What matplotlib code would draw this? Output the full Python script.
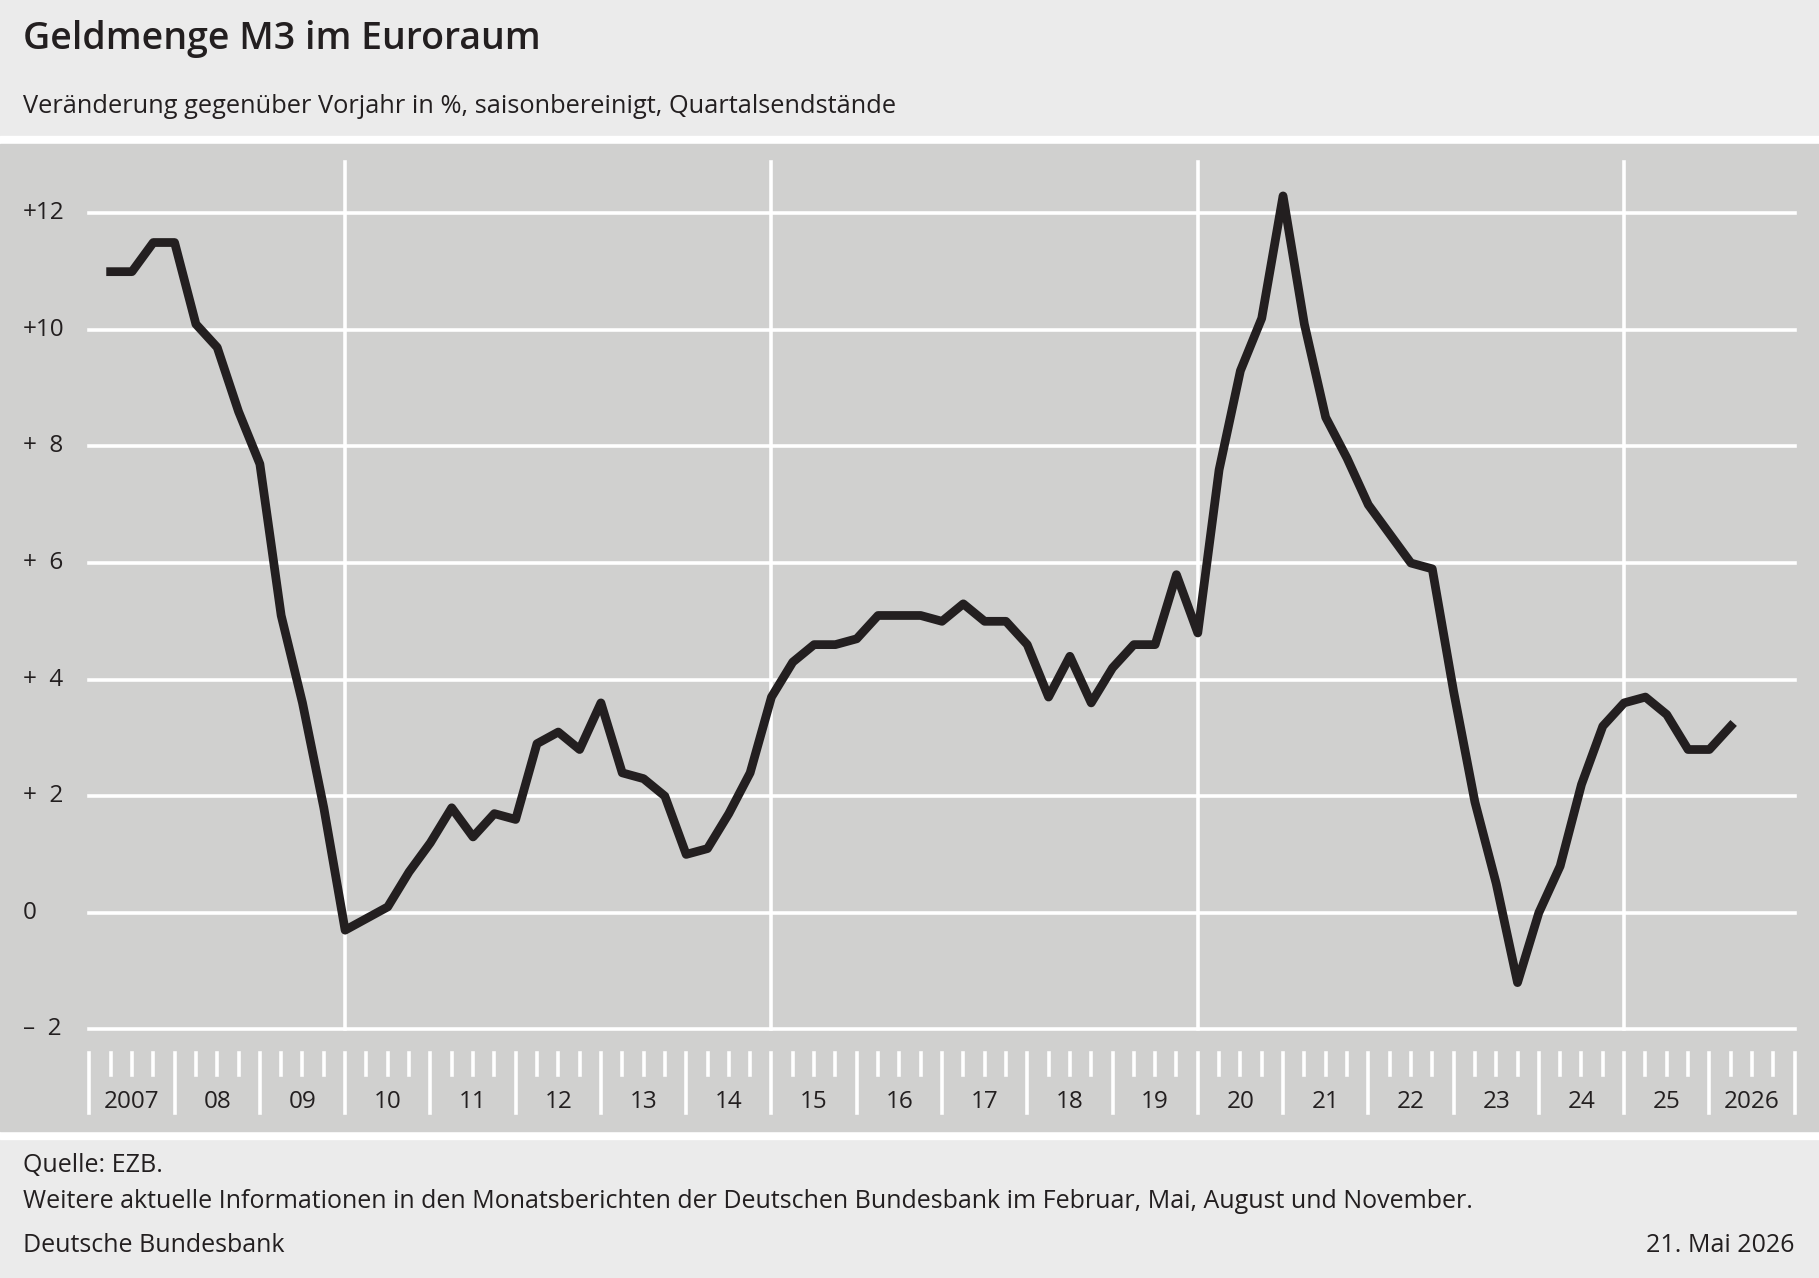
import matplotlib
matplotlib.use("Agg")
import matplotlib.pyplot as plt
import numpy as np

plt.rcParams["font.family"] = ["Open Sans", "DejaVu Sans"]

first_year = 2007
last_year = 2026
m3_growth = [
    11.0, 11.0, 11.5, 11.5,
    10.1, 9.7, 8.6, 7.7,
    5.1, 3.6, 1.8, -0.3,
    -0.1, 0.1, 0.7, 1.2,
    1.8, 1.3, 1.7, 1.6,
    2.9, 3.1, 2.8, 3.6,
    2.4, 2.3, 2.0, 1.0,
    1.1, 1.7, 2.4, 3.7,
    4.3, 4.6, 4.6, 4.7,
    5.1, 5.1, 5.1, 5.0,
    5.3, 5.0, 5.0, 4.6,
    3.7, 4.4, 3.6, 4.2,
    4.6, 4.6, 5.8, 4.8,
    7.6, 9.3, 10.2, 12.3,
    10.1, 8.5, 7.8, 7.0,
    6.5, 6.0, 5.9, 3.8,
    1.9, 0.5, -1.2, 0.0,
    0.8, 2.2, 3.2, 3.6,
    3.7, 3.4, 2.8, 2.8,
    3.2,
]
y_ticks = [-2, 0, 2, 4, 6, 8, 10, 12]
y_tick_labels = ["–  2", "0", "+  2", "+  4", "+  6", "+  8", "+10", "+12"]
year_labels = ["2007"] + [f"{y % 100:02d}" for y in range(2008, 2026)] + ["2026"]
major_years = [2010, 2015, 2020, 2025]

W, H = 1568, 1102  # layout units (reference display)
fig = plt.figure(figsize=(18.19, 12.78), dpi=100)
fig.patch.set_facecolor("#ebebeb")

def fy(y):
    return 1 - y / H

# gray panel with white separators
bg = fig.add_axes([0, 0, 1, 1], zorder=0)
bg.set_xlim(0, W)
bg.set_ylim(H, 0)
bg.axis("off")
bg.add_patch(plt.Rectangle((0, 117), W, 865, color="white"))
bg.add_patch(plt.Rectangle((0, 124), W, 851, color="#d0d0cf"))

ax = fig.add_axes([0, fy(975), 1, (975 - 124) / H], zorder=1)
ax.set_facecolor("none")
ax.axis("off")
px_year = 73.5
x0 = first_year - 77 / px_year
x1 = first_year + (W - 77) / px_year
ax.set_xlim(x0, x1)
ax.set_ylim((787 - 975) / 50.25, (787 - 124) / 50.25)

xs = first_year + np.arange(1, len(m3_growth) + 1) / 4
end = last_year + 1
for v, lab in zip(y_ticks, y_tick_labels):
    ax.plot([first_year, end], [v, v], color="white", lw=2.6, zorder=1)
    ax.text(first_year - 57 / px_year, v, lab, ha="left",
            va="center", fontsize=17.5, color="#231f20")
for yr in major_years:
    ax.plot([yr, yr], [-2, (787 - 140) / 50.25], color="white", lw=2.6, zorder=1)

tick_top = (787 - 908) / 50.25
for yr in range(first_year, end + 1):
    ax.plot([yr, yr], [tick_top, (787 - 960) / 50.25], color="white", lw=2.6)
    if yr < end:
        for q in (0.25, 0.5, 0.75):
            ax.plot([yr + q, yr + q], [tick_top, (787 - 927) / 50.25], color="white", lw=2.6)
        ax.text(yr + 0.5, (787 - 950) / 50.25, year_labels[yr - first_year], ha="center",
                va="center", fontsize=17.5, color="#231f20")

ax.plot(xs, m3_growth, color="#231f20", lw=6.3, solid_joinstyle="round", zorder=3)

fig.text(20 / W, fy(34), "Geldmenge M3 im Euroraum", fontsize=27, fontweight="semibold",
         va="center", color="#231f20")
fig.text(20 / W, fy(92), "Veränderung gegenüber Vorjahr in %, saisonbereinigt, Quartalsendstände",
         fontsize=18.3, va="center", color="#231f20")
fig.text(20 / W, fy(1005), "Quelle: EZB.", fontsize=18, va="center", color="#231f20")
fig.text(20 / W, fy(1036), "Weitere aktuelle Informationen in den Monatsberichten der Deutschen "
         "Bundesbank im Februar, Mai, August und November.", fontsize=18, va="center", color="#231f20")
fig.text(20 / W, fy(1074), "Deutsche Bundesbank", fontsize=18, va="center", color="#231f20")
fig.text(1547 / W, fy(1074), "21. Mai 2026", fontsize=18, va="center", ha="right", color="#231f20")

fig.savefig("out.png", dpi=100, facecolor=fig.get_facecolor())
